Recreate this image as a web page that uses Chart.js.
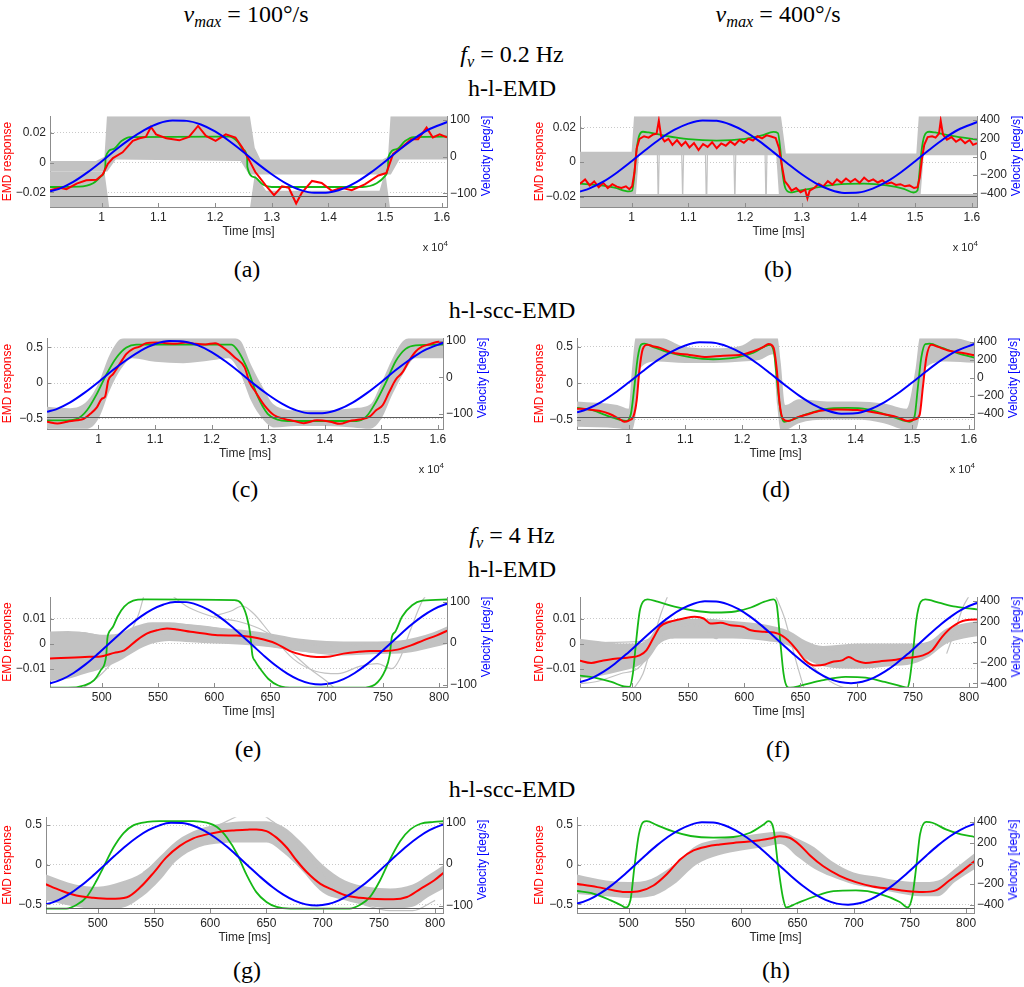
<!DOCTYPE html>
<html>
<head>
<meta charset="utf-8">
<script src="https://cdn.jsdelivr.net/npm/chart.js@4.4.1/dist/chart.umd.min.js"></script>
<style>
  body { margin: 0; background: #fff; }
  #page { position: relative; width: 1024px; height: 987px; overflow: hidden; }
  #page canvas { position: absolute; }
  .t { position: absolute; transform: translate(-50%, -50%); font: 24px "Liberation Serif", "DejaVu Serif", serif; line-height: 1; white-space: nowrap; color: #000; }
  .t sub { font-size: 0.68em; vertical-align: -0.32em; line-height: 0; }
  .vel { position: absolute; transform: translate(-50%, -50%) rotate(-90deg); font: 12px "Liberation Sans", Arial, sans-serif; color: #0000ff; white-space: nowrap; }
  .exp { position: absolute; font: 11px "Liberation Sans", Arial, sans-serif; color: #262626; white-space: nowrap; }
  .exp sup { font-size: 8px; }
</style>
</head>
<body>
<div id="page">
  <div class="t" style="left:246px;top:14px"><i>v</i><sub><i>max</i></sub> = 100°/s</div>
  <div class="t" style="left:778px;top:14px"><i>v</i><sub><i>max</i></sub> = 400°/s</div>
  <div class="t" style="left:512px;top:54px"><i>f</i><sub><i>v</i></sub> = 0.2 Hz</div>
  <div class="t" style="left:512px;top:88px">h-l-EMD</div>
  <div class="t" style="left:247px;top:269px">(a)</div>
  <div class="t" style="left:778px;top:269px">(b)</div>
  <div class="t" style="left:512px;top:310px">h-l-scc-EMD</div>
  <div class="t" style="left:245px;top:489px">(c)</div>
  <div class="t" style="left:776px;top:489px">(d)</div>
  <div class="t" style="left:512px;top:535px"><i>f</i><sub><i>v</i></sub> = 4 Hz</div>
  <div class="t" style="left:512px;top:569px">h-l-EMD</div>
  <div class="t" style="left:248px;top:749px">(e)</div>
  <div class="t" style="left:778px;top:749px">(f)</div>
  <div class="t" style="left:512px;top:789px">h-l-scc-EMD</div>
  <div class="t" style="left:247px;top:970px">(g)</div>
  <div class="t" style="left:776px;top:970px">(h)</div>
</div>
<script>
// Ejes y marcas
const slowXTicks = [10000, 11000, 12000, 13000, 14000, 15000, 16000];
const slowXLabels = ["1", "1.1", "1.2", "1.3", "1.4", "1.5", "1.6"];
const fastXTicks = [500, 550, 600, 650, 700, 750, 800];
const emdTicks02 = [-0.02, 0, 0.02];
const emdTicks05 = [-0.5, 0, 0.5];
const emdTicks01 = [-0.01, 0, 0.01];
const vel100Ticks = [-100, 0, 100];
const vel400Ticks = [-400, -200, 0, 200, 400];

// Velocidad del estimulo (azul)
const slowTimes = [9090, 9250, 9500, 9750, 10000, 10250, 10500, 10750, 11000, 11250, 11500, 11750, 12000, 12250, 12500, 12750, 13000, 13250, 13500, 13750, 14000, 14250, 14500, 14750, 15000, 15250, 15500, 15750, 16100];
const vel100Slow = [-95, -88, -69, -43, -13, 19, 48, 73, 91, 99, 98, 88, 69, 43, 13, -19, -48, -73, -91, -99, -98, -88, -69, -43, -13, 19, 48, 73, 95];
const vel400Slow = [-382, -350, -274, -170, -50, 75, 193, 292, 362, 397, 393, 350, 274, 170, 50, -75, -193, -292, -362, -397, -393, -350, -274, -170, -50, 75, 193, 292, 380];
const fastTimes = [445, 455, 465, 475, 485, 495, 505, 515, 525, 535, 545, 555, 565, 575, 585, 595, 605, 615, 625, 635, 645, 655, 665, 675, 685, 695, 705, 715, 725, 735, 745, 755, 765, 775, 785, 795, 805, 815];
const vel100Fast = [-100, -96.5, -87, -72.1, -52.5, -29.7, -5, 19.9, 43.7, 64.7, 81.6, 93.4, 99.4, 99.1, 92.5, 80.2, 62.8, 41.5, 17.5, -7.5, -32.1, -54.6, -73.7, -88.2, -97.2, -100, -96.5, -87, -72.1, -52.5, -29.7, -5, 19.9, 43.7, 64.7, 81.6, 93.4, 99.4];
const vel400Fast = [-400, -386, -348, -288, -210, -119, -20, 80, 175, 259, 326, 374, 398, 396, 370, 321, 251, 166, 70, -30, -128, -218, -295, -353, -389, -400, -386, -348, -288, -210, -119, -20, 80, 175, 259, 326, 374, 398];

// (a) h-l-EMD, 0.2 Hz, 100 deg/s
const aRed = [[9090,-0.0187],[9260,-0.017],[9380,-0.018],[9560,-0.0142],[9730,-0.012],[9910,-0.0116],[10020,-0.008],[10110,-0.0009],[10200,0.003],[10370,0.0069],[10550,0.0147],[10670,0.0164],[10780,0.0173],[10870,0.024],[10960,0.019],[11140,0.0164],[11370,0.015],[11540,0.0173],[11700,0.0247],[11840,0.018],[12010,0.0147],[12190,0.019],[12360,0.0169],[12480,0.0102],[12600,0.0018],[12710,-0.0064],[12890,-0.0153],[13040,-0.022],[13180,-0.016],[13300,-0.017],[13430,-0.0276],[13530,-0.0204],[13710,-0.0124],[13880,-0.0138],[14060,-0.0191],[14230,-0.017],[14410,-0.0187],[14640,-0.0147],[14880,-0.0087],[15020,-0.0071],[15140,0.0058],[15290,0.0102],[15460,0.0158],[15580,0.0158],[15730,0.0236],[15840,0.0169],[15960,0.019],[16090,0.017]];
const aGreen = [[9090,-0.0165],[9600,-0.0163],[9850,-0.014],[10000,-0.009],[10065,-0.0025],[10070,0.0035],[10200,0.009],[10350,0.0145],[10500,0.0172],[12250,0.0175],[12400,0.014],[12500,0.0085],[12565,0.0036],[12570,-0.003],[12700,-0.01],[12850,-0.015],[13000,-0.0165],[14600,-0.0165],[14850,-0.014],[15000,-0.009],[15050,-0.0025],[15055,0.0035],[15200,0.009],[15350,0.0145],[15500,0.0172],[16090,0.0175]];
const aBandTop = [[9090,-0.006,0.001],[9900,-0.006,0.001],[10050,-0.006,0.004],[10100,-0.006,0.035],[10250,0.002,0.035],[12450,0.001,0.035],[12600,-0.008,0.035],[12700,-0.008,0.01],[12800,-0.008,0.002],[14950,-0.008,0.002],[15050,-0.008,0.004],[15100,-0.008,0.035],[15250,0.002,0.035],[16090,0.002,0.035]];
const aBandBottom = [[9090,-0.035,-0.006],[10050,-0.035,-0.006],[10150,-0.035,-0.035],[12600,-0.035,-0.035],[12700,-0.035,-0.008],[12900,-0.035,-0.019],[14900,-0.035,-0.019],[15000,-0.035,-0.006],[15100,-0.035,-0.035],[16090,-0.035,-0.035]];

// (b) h-l-EMD, 0.2 Hz, 400 deg/s
const bRed = [[9090,-0.0125],[9180,-0.01],[9260,-0.0135],[9340,-0.0112],[9420,-0.0145],[9500,-0.012],[9580,-0.015],[9660,-0.0128],[9740,-0.0142],[9820,-0.015],[9900,-0.014],[9960,-0.0157],[10010,-0.014],[10050,-0.006],[10090,0.008],[10140,0.0135],[10220,0.015],[10300,0.0142],[10380,0.016],[10440,0.0165],[10480,0.024],[10520,0.015],[10580,0.012],[10650,0.0135],[10720,0.01],[10800,0.0128],[10880,0.0095],[10950,0.0118],[11020,0.0085],[11100,0.011],[11180,0.007],[11260,0.0105],[11340,0.0088],[11420,0.0115],[11500,0.008],[11580,0.0108],[11660,0.0095],[11740,0.012],[11820,0.01],[11900,0.0128],[11980,0.0112],[12060,0.0135],[12140,0.0125],[12220,0.015],[12300,0.0138],[12380,0.0155],[12460,0.0148],[12540,0.014],[12600,0.008],[12650,-0.002],[12700,-0.011],[12760,-0.0135],[12820,-0.0165],[12900,-0.015],[12980,-0.0175],[13060,-0.016],[13100,-0.021],[13140,-0.0165],[13220,-0.015],[13300,-0.0125],[13380,-0.014],[13460,-0.011],[13540,-0.013],[13620,-0.01],[13700,-0.012],[13780,-0.0095],[13860,-0.0115],[13940,-0.0098],[14020,-0.012],[14100,-0.009],[14180,-0.0112],[14260,-0.01],[14340,-0.0118],[14420,-0.0105],[14500,-0.0125],[14580,-0.0118],[14660,-0.0132],[14740,-0.0128],[14820,-0.014],[14900,-0.0135],[14980,-0.015],[15040,-0.0145],[15080,-0.009],[15120,0.002],[15160,0.01],[15220,0.0145],[15300,0.015],[15360,0.0142],[15420,0.0165],[15450,0.024],[15490,0.016],[15560,0.013],[15640,0.0145],[15720,0.0118],[15800,0.0135],[15880,0.011],[15960,0.0128],[16020,0.01],[16090,0.011]];
const bGreen = [[9090,-0.0125],[9400,-0.0132],[9700,-0.0148],[9950,-0.017],[10010,-0.0165],[10040,-0.01],[10080,0.005],[10130,0.015],[10200,0.0176],[10300,0.0172],[10600,0.0152],[11000,0.0133],[11500,0.0125],[12000,0.0135],[12300,0.0155],[12500,0.0175],[12580,0.0168],[12620,0.008],[12660,-0.006],[12710,-0.015],[12800,-0.0175],[12900,-0.017],[13200,-0.015],[13600,-0.013],[14100,-0.0125],[14500,-0.0135],[14800,-0.0155],[14970,-0.0176],[15040,-0.0165],[15070,-0.008],[15110,0.006],[15160,0.015],[15250,0.0176],[15350,0.0172],[15650,0.0152],[16090,0.013]];
const bBandMain = [[9090,-0.019,0.006],[10000,-0.019,0.006],[10050,-0.03,0.03],[10130,0.004,0.03],[12550,0.004,0.03],[12620,-0.03,0.03],[12720,-0.019,0.005],[15020,-0.019,0.005],[15070,-0.03,0.03],[15150,0.004,0.03],[16090,0.004,0.03]];
const bBandBottom = [[9090,-0.03,-0.0185],[16090,-0.03,-0.0185]];
const bSpikes = [[10200,0.012],[10450,0.014],[10470,-0.026],[10490,0.012],[10700,0.013],[10880,0.01],[10900,-0.022],[10920,0.011],[11150,0.012],[11300,0.009],[11320,-0.03],[11340,0.01],[11600,0.012],[11800,0.01],[11820,-0.024],[11840,0.011],[12100,0.013],[12350,0.012],[12370,-0.028],[12390,0.013],[12550,0.012]];

// (c) h-l-scc-EMD, 0.2 Hz, 100 deg/s
const cRed = [[9090,-0.54],[9274,-0.565],[9448,-0.54],[9623,-0.52],[9739,-0.5],[9855,-0.43],[9971,-0.34],[10058,-0.22],[10116,-0.19],[10174,0.04],[10261,0.13],[10377,0.27],[10494,0.41],[10610,0.48],[10726,0.51],[10842,0.56],[11016,0.57],[11190,0.56],[11365,0.55],[11539,0.57],[11713,0.55],[11887,0.54],[12062,0.56],[12236,0.48],[12410,0.36],[12584,0.22],[12671,0.01],[12758,-0.1],[12933,-0.31],[13107,-0.45],[13281,-0.5],[13455,-0.53],[13629,-0.56],[13862,-0.52],[14094,-0.54],[14268,-0.57],[14443,-0.53],[14617,-0.51],[14791,-0.47],[14907,-0.38],[15023,-0.31],[15139,-0.125],[15256,0.05],[15372,0.15],[15488,0.31],[15604,0.44],[15720,0.51],[15836,0.54],[16010,0.58],[16090,0.57]];
const cGreen = [[9090,-0.52],[9448,-0.52],[9623,-0.5],[9797,-0.38],[9971,-0.15],[10145,0.13],[10319,0.36],[10494,0.5],[10668,0.54],[12352,0.54],[12468,0.45],[12642,0.18],[12816,-0.19],[12991,-0.43],[13165,-0.51],[13339,-0.53],[14559,-0.53],[14733,-0.47],[14907,-0.26],[15081,0.01],[15256,0.31],[15430,0.48],[15604,0.53],[16090,0.54]];
const cBand = [[9090,-0.64,-0.33],[9500,-0.64,-0.35],[9800,-0.64,-0.25],[10000,-0.5,0],[10200,-0.1,0.4],[10400,0.2,0.62],[10600,0.35,0.64],[11000,0.3,0.64],[11500,0.28,0.64],[12000,0.32,0.64],[12300,0.35,0.64],[12500,0.15,0.6],[12700,-0.25,0.25],[12900,-0.5,-0.05],[13100,-0.62,-0.3],[13500,-0.6,-0.38],[14000,-0.6,-0.38],[14500,-0.62,-0.35],[14800,-0.64,-0.3],[15000,-0.5,0],[15200,-0.15,0.35],[15400,0.15,0.6],[15600,0.35,0.64],[16090,0.35,0.64]];

// (d) h-l-scc-EMD, 0.2 Hz, 400 deg/s
const dRed = [[9090,-0.35],[9302,-0.36],[9479,-0.38],[9657,-0.42],[9834,-0.49],[9923,-0.53],[10012,-0.51],[10083,-0.46],[10142,-0.24],[10189,0.17],[10249,0.47],[10337,0.53],[10426,0.51],[10544,0.49],[10781,0.42],[11077,0.39],[11373,0.36],[11669,0.38],[11964,0.39],[12201,0.44],[12379,0.5],[12467,0.54],[12556,0.49],[12615,0.17],[12663,-0.28],[12722,-0.49],[12822,-0.52],[12970,-0.47],[13148,-0.43],[13385,-0.38],[13680,-0.36],[14036,-0.37],[14391,-0.41],[14746,-0.47],[14923,-0.52],[15041,-0.5],[15130,-0.44],[15189,-0.05],[15249,0.35],[15337,0.53],[15456,0.5],[15633,0.45],[15870,0.42],[16136,0.38]];
const dGreen = [[9090,-0.34],[9361,-0.37],[9598,-0.44],[9834,-0.5],[9953,-0.52],[10041,-0.42],[10101,-0.05],[10160,0.35],[10219,0.53],[10278,0.545],[10426,0.5],[10722,0.42],[11077,0.36],[11491,0.33],[11905,0.355],[12201,0.42],[12408,0.51],[12497,0.53],[12568,0.4],[12627,-0.05],[12686,-0.42],[12746,-0.53],[12852,-0.51],[13089,-0.44],[13444,-0.36],[13858,-0.34],[14213,-0.36],[14568,-0.44],[14834,-0.51],[14953,-0.53],[15041,-0.46],[15101,-0.05],[15160,0.35],[15231,0.54],[15308,0.545],[15515,0.49],[15811,0.41],[16136,0.345]];
const dBand = [[9090,-0.6,-0.25],[9800,-0.62,-0.3],[10000,-0.64,-0.35],[10060,-0.64,0.2],[10130,-0.4,0.64],[10200,0.2,0.64],[10500,0.3,0.64],[11000,0.28,0.5],[11500,0.28,0.48],[12000,0.3,0.52],[12300,0.32,0.64],[12550,0.4,0.64],[12620,-0.3,0.64],[12680,-0.64,0.3],[12760,-0.64,-0.3],[13000,-0.55,-0.22],[13500,-0.5,-0.25],[14000,-0.5,-0.25],[14500,-0.55,-0.28],[14900,-0.64,-0.35],[15060,-0.64,0.2],[15140,-0.4,0.64],[15220,0.2,0.64],[15600,0.3,0.64],[16136,0.28,0.55]];

// (e) h-l-EMD, 4 Hz, 100 deg/s
const eRed = [[453,-0.006],[485,-0.0053],[499,-0.0051],[511,-0.0037],[520,-0.0027],[531,0.0013],[540,0.004],[549,0.0053],[558,0.006],[567,0.0056],[579,0.0047],[591,0.004],[605,0.0033],[620,0.0032],[632,0.0027],[644,0.0016],[655,0],[667,-0.0029],[680,-0.0047],[691,-0.0053],[703,-0.0051],[715,-0.004],[727,-0.0033],[739,-0.0029],[751,-0.0029],[763,-0.0024],[775,-0.0007],[786,0.0013],[798,0.0033],[808,0.0053]];
const eGreen = [[453,-0.0176],[470,-0.0176],[484,-0.0167],[493,-0.0147],[499,-0.0107],[504,-0.0047],[505,0.002],[506,0.004],[510,0.0067],[514,0.0107],[520,0.0147],[528,0.0171],[538,0.0176],[618,0.0173],[624,0.016],[629,0.0107],[632,0.004],[633,-0.0007],[634,-0.0047],[636,-0.0067],[642,-0.0107],[648,-0.014],[657,-0.0167],[672,-0.0176],[731,-0.0176],[743,-0.0163],[752,-0.0107],[756,-0.0047],[758,0.0027],[761,0.0047],[767,0.0107],[776,0.0153],[785,0.0171],[808,0.0176]];
const eBand = [[453,-0.015,0.0048],[470,-0.014,0.005],[485,-0.012,0.0045],[500,-0.01,0.0035],[515,-0.007,0.004],[530,-0.003,0.007],[545,0,0.0085],[560,0.001,0.0085],[580,0.0005,0.0075],[600,0,0.0065],[625,-0.0005,0.0055],[650,-0.0015,0.004],[675,-0.003,0.002],[700,-0.004,0.001],[730,-0.004,0.0008],[760,-0.004,0.001],[780,-0.003,0.0025],[795,-0.0015,0.0045],[808,0,0.007]];
const eGray1 = [[453,-0.019],[480,-0.018],[500,-0.012],[515,-0.004],[525,0.004],[533,0.012],[538,0.02]];
const eGray2 = [[560,0.02],[575,0.015],[590,0.012],[605,0.01],[620,0.009],[640,0.006],[655,0.002],[670,-0.004],[685,-0.01],[700,-0.015],[710,-0.019]];
const eGray3 = [[600,0.011],[615,0.013],[625,0.015],[635,0.012],[650,0.004],[670,-0.006],[690,-0.011],[710,-0.012],[730,-0.009],[745,-0.008],[758,-0.01],[765,-0.006],[775,0.006],[785,0.017],[790,0.02]];
const eGray4 = [[453,0.004],[480,0.0045],[500,0.003],[520,0.002],[540,0.006],[560,0.008],[590,0.007],[620,0.005],[650,0.003],[680,0],[710,-0.001],[740,0],[770,0.001],[800,0.004],[808,0.005]];
const eGray5 = [[453,-0.012],[480,-0.01],[500,-0.009],[520,-0.004],[540,0.002],[560,0.004],[590,0.003],[620,0.001],[650,-0.001],[680,-0.003],[710,-0.0045],[740,-0.004],[770,-0.003],[800,0.001],[808,0.002]];

// (f) h-l-EMD, 4 Hz, 400 deg/s
const fRed = [[453,-0.0067],[464,-0.0077],[473,-0.0069],[485,-0.006],[496,-0.0056],[507,-0.0047],[513,-0.0027],[519,0.002],[525,0.0067],[534,0.0087],[546,0.01],[556,0.0107],[564,0.01],[570,0.008],[579,0.0083],[588,0.0073],[599,0.0067],[606,0.0053],[618,0.0047],[630,0.004],[639,0.0013],[648,-0.0033],[654,-0.0067],[663,-0.0087],[672,-0.0083],[678,-0.0073],[687,-0.0067],[693,-0.0053],[699,-0.0067],[708,-0.0077],[720,-0.0071],[735,-0.0064],[747,-0.0056],[759,-0.0047],[767,-0.0027],[776,0.0027],[785,0.0067],[797,0.0093],[808,0.0096]];
const fGreen = [[453,-0.0127],[467,-0.0136],[482,-0.0153],[493,-0.0171],[498,-0.0173],[501,-0.012],[504,0.0013],[507,0.0127],[510,0.0167],[514,0.0176],[523,0.0167],[538,0.0147],[556,0.0131],[574,0.0124],[592,0.0128],[606,0.0144],[618,0.0167],[626,0.0176],[629,0.0153],[632,0.0013],[635,-0.012],[638,-0.0171],[641,-0.0176],[651,-0.0167],[669,-0.0147],[690,-0.0133],[708,-0.0136],[725,-0.0153],[740,-0.0171],[745,-0.0176],[747,-0.0147],[750,-0.004],[753,0.0093],[757,0.0167],[761,0.0176],[773,0.0163],[788,0.0147],[808,0.0136]];
const fBand = [[453,-0.014,0.002],[470,-0.013,0.001],[490,-0.011,0],[505,-0.009,0],[515,-0.006,0.002],[525,0,0.008],[540,0.002,0.0095],[560,0.002,0.01],[590,0.002,0.009],[620,0.001,0.0075],[640,-0.001,0.005],[655,-0.006,0.001],[670,-0.009,-0.001],[700,-0.01,0],[730,-0.009,0],[750,-0.008,0],[765,-0.005,0.001],[780,0,0.006],[795,0.002,0.008],[808,0.003,0.009]];
const fGray1 = [[500,-0.019],[510,-0.012],[518,0],[526,0.012],[532,0.019]];
const fGray2 = [[628,0.019],[636,0.01],[642,0],[648,-0.01],[654,-0.019]];
const fGray3 = [[780,-0.004],[788,0.006],[795,0.015],[800,0.019]];
const fGray4 = [[453,0],[480,0.0005],[510,0.001],[530,0.006],[560,0.008],[575,0.002],[585,0.007],[620,0.006],[645,0.002],[670,-0.002],[700,-0.003],[730,-0.001],[760,0],[790,0.004],[808,0.006]];
const fGray5 = [[453,-0.016],[470,-0.015],[490,-0.012],[505,-0.01],[520,-0.002],[535,0.006],[560,0.007],[600,0.006],[630,0.005],[650,-0.004],[665,-0.011],[680,-0.016],[700,-0.019]];

// (g) h-l-scc-EMD, 4 Hz, 100 deg/s
const gRed = [[453,-0.242],[467,-0.325],[481,-0.39],[496,-0.417],[511,-0.43],[526,-0.41],[538,-0.283],[550,-0.096],[561,0.092],[573,0.2375],[585,0.333],[597,0.383],[609,0.417],[621,0.433],[633,0.442],[641,0.446],[650,0.425],[659,0.342],[668,0.217],[677,0.05],[686,-0.096],[698,-0.242],[710,-0.325],[721,-0.39],[733,-0.417],[748,-0.433],[763,-0.4375],[775,-0.408],[787,-0.304],[799,-0.2],[808,-0.096]];
const gGreen = [[453,-0.554],[472,-0.554],[481,-0.51],[490,-0.41],[499,-0.2],[505,-0.033],[514,0.217],[523,0.4],[532,0.5],[544,0.54],[555,0.55],[585,0.55],[597,0.53],[606,0.475],[615,0.34],[624,0.133],[632,-0.117],[641,-0.346],[650,-0.47],[659,-0.533],[671,-0.554],[724,-0.554],[733,-0.51],[742,-0.41],[751,-0.2],[760,0.071],[769,0.3],[778,0.446],[787,0.517],[799,0.54],[808,0.55]];
const gBand = [[453,-0.45,-0.12],[480,-0.53,-0.25],[500,-0.56,-0.28],[520,-0.55,-0.22],[540,-0.4,-0.1],[555,-0.2,0.1],[570,0.05,0.3],[590,0.22,0.45],[610,0.27,0.52],[630,0.28,0.55],[650,0.28,0.55],[665,0.15,0.48],[680,-0.05,0.3],[700,-0.35,0],[720,-0.45,-0.2],[740,-0.52,-0.28],[760,-0.55,-0.3],[780,-0.53,-0.25],[795,-0.4,-0.12],[808,-0.3,0]];
const gGray1 = [[540,-0.1],[560,0.1],[580,0.3],[600,0.45],[615,0.55],[625,0.62]];
const gGray2 = [[648,0.62],[660,0.5],[675,0.3],[690,0.05],[705,-0.2],[720,-0.4],[740,-0.52],[760,-0.58],[780,-0.58],[800,-0.45]];

// (h) h-l-scc-EMD, 4 Hz, 400 deg/s
const hRed = [[453,-0.24],[472,-0.283],[487,-0.325],[498.5,-0.346],[510,-0.333],[522,-0.2625],[534,-0.117],[546,0.07],[557.6,0.18],[569.7,0.23],[581,0.255],[593,0.275],[605,0.29],[616.7,0.31],[625.6,0.33],[634.5,0.36],[643,0.34],[652,0.25],[661,0.12],[673,-0.02],[687.6,-0.14],[702,-0.22],[717,-0.275],[732,-0.304],[746.7,-0.333],[761.5,-0.346],[773,-0.325],[785,-0.2],[797,-0.075],[808,0.05]];
const hGreen = [[453,-0.33],[469,-0.367],[484,-0.45],[493,-0.51],[497,-0.54],[501.5,-0.45],[505,-0.033],[509,0.383],[513,0.54],[516,0.55],[525,0.5],[540,0.417],[555,0.3625],[575,0.342],[593,0.35],[608,0.404],[620,0.508],[624,0.55],[628.5,0.467],[633,-0.033],[637,-0.408],[640,-0.54],[649,-0.49],[664,-0.408],[682,-0.333],[702,-0.325],[723,-0.367],[741,-0.47],[748,-0.54],[752,-0.41],[755.6,-0.033],[759,0.383],[764.5,0.54],[770,0.53],[782,0.446],[795.5,0.383],[808,0.35]];
const hBand = [[453,-0.37,-0.12],[480,-0.4,-0.2],[500,-0.42,-0.22],[520,-0.4,-0.18],[540,-0.25,0],[560,0,0.24],[580,0.12,0.32],[600,0.18,0.36],[620,0.22,0.4],[635,0.26,0.42],[650,0.1,0.33],[665,-0.05,0.22],[680,-0.15,0.05],[700,-0.25,-0.1],[720,-0.3,-0.15],[740,-0.36,-0.2],[760,-0.4,-0.22],[775,-0.4,-0.2],[790,-0.22,-0.05],[808,-0.05,0.15]];

// Configuracion de cada panel
const panels = [
  { left: 0,   top: 115, h: 92, axL: 50, axR: 65, xr: [9090, 16090], yr: [-0.030, 0.0313], y2r: [-137.8, 110.8], yt: emdTicks02, y2t: vel100Ticks, xt: slowXTicks, xl: slowXLabels, times: slowTimes, vel: vel100Slow, red: aRed, green: aGreen, bands: [aBandTop, aBandBottom], gray: [], boxLine: -108, smooth: false },
  { left: 512, top: 115, h: 92, axL: 68, axR: 47, xr: [9090, 16090], yr: [-0.026, 0.0266], y2r: [-551, 443], yt: emdTicks02, y2t: vel400Ticks, xt: slowXTicks, xl: slowXLabels, times: slowTimes, vel: vel400Slow, red: bRed, green: bGreen, bands: [bBandMain, bBandBottom], gray: [bSpikes], boxLine: -432, smooth: false },
  { left: 0,   top: 337, h: 92, axL: 47, axR: 69, xr: [9090, 16090], yr: [-0.642, 0.629], y2r: [-142, 107], yt: emdTicks05, y2t: vel100Ticks, xt: slowXTicks, xl: slowXLabels, times: slowTimes, vel: vel100Slow, red: cRed, green: cGreen, bands: [cBand], gray: [], boxLine: -109, smooth: true },
  { left: 512, top: 337, h: 92, axL: 65, axR: 50, xr: [9090, 16090], yr: [-0.63, 0.62], y2r: [-567, 443], yt: emdTicks05, y2t: vel400Ticks, xt: slowXTicks, xl: slowXLabels, times: slowTimes, vel: vel400Slow, red: dRed, green: dGreen, bands: [dBand], gray: [], boxLine: -433, smooth: true },
  { left: 0,   top: 596, h: 91, axL: 50, axR: 65, xr: [454, 807], yr: [-0.0173, 0.0185], y2r: [-106, 111], yt: emdTicks01, y2t: vel100Ticks, xt: fastXTicks, xl: null, times: fastTimes, vel: vel100Fast, red: eRed, green: eGreen, bands: [eBand], gray: [eGray1, eGray2, eGray3, eGray4, eGray5], boxLine: null, smooth: true },
  { left: 512, top: 596, h: 91, axL: 68, axR: 47, xr: [454, 807], yr: [-0.0173, 0.0185], y2r: [-437, 438], yt: emdTicks01, y2t: vel400Ticks, xt: fastXTicks, xl: null, times: fastTimes, vel: vel400Fast, red: fRed, green: fGreen, bands: [fBand], gray: [fGray1, fGray2, fGray3, fGray4, fGray5], boxLine: null, smooth: true },
  { left: 0,   top: 816, h: 97, axL: 46, axR: 69, xr: [454, 807], yr: [-0.61, 0.60], y2r: [-118, 113], yt: emdTicks05, y2t: vel100Ticks, xt: fastXTicks, xl: null, times: fastTimes, vel: vel100Fast, red: gRed, green: gGreen, bands: [gBand], gray: [gGray1, gGray2], boxLine: -107, smooth: true },
  { left: 512, top: 816, h: 97, axL: 65, axR: 50, xr: [454, 807], yr: [-0.61, 0.60], y2r: [-480, 448], yt: emdTicks05, y2t: vel400Ticks, xt: fastXTicks, xl: null, times: fastTimes, vel: vel400Fast, red: hRed, green: hGreen, bands: [hBand], gray: [], boxLine: -428, smooth: true }
];

const page = document.getElementById("page");
const tickFont = { family: "'Liberation Sans', Arial, sans-serif", size: 12 };
const GRIS = "#c2c2c2";

function xy(pares) {
  return pares.map(p => ({ x: p[0], y: p[1] }));
}
function zip(xs, ys) {
  return xs.map((x, i) => ({ x: x, y: ys[i] }));
}
function fmt(v) {
  return (v < 0 ? "\u2212" : "") + Math.abs(v);
}

// Marcas hacia dentro y linea base del eje derecho, estilo MATLAB
const ejesMatlab = {
  id: "ejesMatlab",
  afterDatasetsDraw(chart, args, opts) {
    const { ctx, chartArea: a, scales: s } = chart;
    ctx.save();
    ctx.lineWidth = 1;
    ctx.strokeStyle = "#8c8c8c";
    ctx.beginPath();
    s.x.ticks.forEach(t => {
      const px = Math.round(s.x.getPixelForValue(t.value)) + 0.5;
      ctx.moveTo(px, a.bottom); ctx.lineTo(px, a.bottom - 4);
    });
    s.y.ticks.forEach(t => {
      const py = Math.round(s.y.getPixelForValue(t.value)) + 0.5;
      ctx.moveTo(a.left, py); ctx.lineTo(a.left + 4, py);
    });
    s.y2.ticks.forEach(t => {
      const py = Math.round(s.y2.getPixelForValue(t.value)) + 0.5;
      ctx.moveTo(a.right, py); ctx.lineTo(a.right - 4, py);
    });
    ctx.stroke();
    if (opts.boxLine !== null && opts.boxLine !== undefined) {
      const py = Math.round(s.y2.getPixelForValue(opts.boxLine)) + 0.5;
      ctx.strokeStyle = "#5c5c5c";
      ctx.beginPath(); ctx.moveTo(a.left, py); ctx.lineTo(a.right, py); ctx.stroke();
    }
    ctx.restore();
  }
};

function crearPanel(p) {
  const W = 512, H = 10 + p.h + 45;
  const cv = document.createElement("canvas");
  cv.width = W; cv.height = H;
  cv.style.left = p.left + "px";
  cv.style.top = (p.top - 10) + "px";
  cv.style.width = W + "px";
  cv.style.height = H + "px";
  page.appendChild(cv);

  const modo = p.smooth ? "monotone" : "default";
  const datasets = [];
  datasets.push({ data: zip(p.times, p.vel), yAxisID: "y2", borderColor: "#0000ff", borderWidth: 2, order: 0, cubicInterpolationMode: "monotone" });
  datasets.push({ data: xy(p.red), yAxisID: "y", borderColor: "#ff0000", borderWidth: 2, order: 1, cubicInterpolationMode: modo });
  datasets.push({ data: xy(p.green), yAxisID: "y", borderColor: "#16b816", borderWidth: 1.8, order: 2, cubicInterpolationMode: "monotone" });
  p.gray.forEach(g => {
    datasets.push({ data: xy(g), yAxisID: "y", borderColor: GRIS, borderWidth: 1.2, order: 3, cubicInterpolationMode: modo });
  });
  p.bands.forEach(b => {
    datasets.push({ data: b.map(r => ({ x: r[0], y: r[1] })), yAxisID: "y", borderColor: "rgba(0,0,0,0)", borderWidth: 0, order: 4, fill: false, cubicInterpolationMode: modo });
    datasets.push({ data: b.map(r => ({ x: r[0], y: r[2] })), yAxisID: "y", borderColor: "rgba(0,0,0,0)", borderWidth: 0, order: 4, fill: "-1", backgroundColor: GRIS, cubicInterpolationMode: modo });
  });

  new Chart(cv.getContext("2d"), {
    type: "line",
    data: { datasets: datasets },
    plugins: [ejesMatlab],
    options: {
      responsive: false,
      animation: false,
      devicePixelRatio: 1,
      events: [],
      layout: { padding: { top: 10, left: 0, right: 0, bottom: 0 } },
      elements: { point: { radius: 0 }, line: { tension: 0 } },
      plugins: { legend: { display: false }, tooltip: { enabled: false }, ejesMatlab: { boxLine: p.boxLine } },
      scales: {
        x: {
          type: "linear", min: p.xr[0], max: p.xr[1],
          afterBuildTicks: s => { s.ticks = p.xt.map(v => ({ value: v })); },
          afterFit: s => { s.height = 45; },
          ticks: { autoSkip: false, maxRotation: 0, padding: 3, color: "#262626", font: tickFont,
                   callback: (v, i) => p.xl ? p.xl[i] : String(v) },
          grid: { display: false, drawTicks: false },
          border: { display: true, color: "#8c8c8c" },
          title: { display: true, text: "Time [ms]", color: "#262626", font: tickFont, padding: { top: 0, bottom: 13 } }
        },
        y: {
          position: "left", min: p.yr[0], max: p.yr[1],
          afterBuildTicks: s => { s.ticks = p.yt.map(v => ({ value: v })); },
          afterFit: s => { s.width = p.axL; },
          ticks: { padding: 4, color: "#262626", font: tickFont, callback: v => fmt(v) },
          grid: { drawTicks: false, color: "#c9c9c9", lineWidth: 1 },
          border: { display: true, color: "#8c8c8c", dash: [1, 2] },
          title: { display: true, text: "EMD response", color: "#ff0000", font: tickFont, padding: { top: p.left ? 20 : 0, bottom: 0 } }
        },
        y2: {
          position: "right", min: p.y2r[0], max: p.y2r[1],
          afterBuildTicks: s => { s.ticks = p.y2t.map(v => ({ value: v })); },
          afterFit: s => { s.width = p.axR; },
          ticks: { padding: 3, color: "#262626", font: tickFont, callback: v => fmt(v) },
          grid: { display: false, drawTicks: false },
          border: { display: true, color: "#8c8c8c" }
        }
      }
    }
  });

  // Titulo del eje derecho (lectura de abajo hacia arriba)
  const plotRight = p.left + W - p.axR;
  const vel = document.createElement("div");
  vel.className = "vel";
  vel.textContent = "Velocity [deg/s]";
  vel.style.left = (plotRight + 39) + "px";
  vel.style.top = (p.top + p.h / 2 - 5) + "px";
  page.appendChild(vel);

  if (p.xl) {
    const ex = document.createElement("div");
    ex.className = "exp";
    ex.innerHTML = "x 10<sup>4</sup>";
    ex.style.right = (1024 - plotRight - 1) + "px";
    ex.style.top = (p.top + p.h + 32) + "px";
    page.appendChild(ex);
  }
}

panels.forEach(crearPanel);
</script>
</body>
</html>
